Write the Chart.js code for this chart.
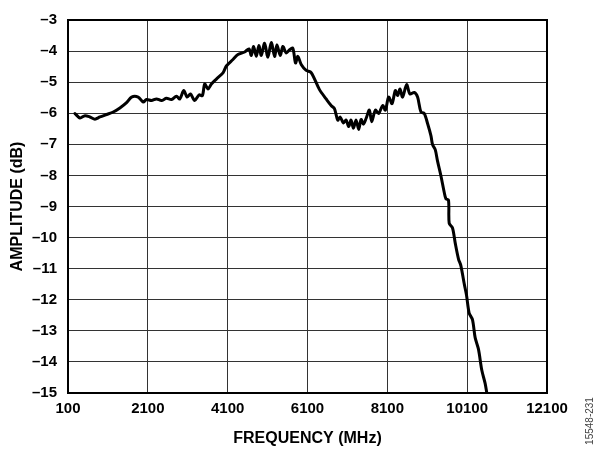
<!DOCTYPE html>
<html>
<head>
<meta charset="utf-8">
<script src="https://cdn.jsdelivr.net/npm/chart.js@4.4.1/dist/chart.umd.min.js"></script>
<style>
  html, body { margin: 0; padding: 0; background: #fff; }
  canvas { display: block; }
</style>
</head>
<body>
<canvas id="c" width="600" height="451"></canvas>
<script>
const freqMHz = [
  275, 400, 525, 650, 775, 900, 1067, 1233, 1400, 1567,
  1692, 1858, 1983, 2067, 2192, 2317, 2442, 2567, 2692, 2817,
  2900, 3000, 3083, 3167, 3275, 3383, 3467, 3525, 3608, 3692,
  3817, 3983, 4067, 4233, 4358, 4525, 4633, 4692, 4750, 4817,
  4883, 4942, 5025, 5108, 5192, 5275, 5333, 5417, 5483, 5567,
  5650, 5733, 5800, 5858, 5942, 6067, 6192, 6400, 6567, 6692,
  6775, 6858, 6917, 7000, 7067, 7133, 7192, 7250, 7317, 7383,
  7442, 7500, 7567, 7650, 7708, 7800, 7883, 7983, 8050, 8133,
  8217, 8300, 8358, 8417, 8483, 8583, 8667, 8775, 8858, 8942,
  9025, 9108, 9192, 9233, 9300, 9358, 9442, 9525, 9567, 9633,
  9650, 9733, 9800, 9883, 9942, 10025, 10083, 10150, 10233, 10300,
  10383, 10467, 10550, 10592
];
const amplitudeDb = [
  -6.01, -6.15, -6.08, -6.12, -6.19, -6.12, -6.04, -5.96, -5.83, -5.66,
  -5.48, -5.48, -5.64, -5.56, -5.59, -5.54, -5.59, -5.52, -5.56, -5.45,
  -5.54, -5.27, -5.48, -5.38, -5.59, -5.41, -5.43, -5.06, -5.22, -5.06,
  -4.90, -4.70, -4.48, -4.27, -4.11, -4.03, -3.93, -4.14, -3.85, -4.17,
  -3.82, -4.14, -3.75, -4.20, -3.72, -4.17, -3.80, -4.14, -3.85, -4.06,
  -3.96, -3.91, -4.38, -4.17, -4.43, -4.62, -4.69, -5.24, -5.54, -5.75,
  -5.85, -6.22, -6.12, -6.31, -6.22, -6.43, -6.22, -6.48, -6.22, -6.52,
  -6.20, -6.35, -6.17, -5.90, -6.27, -5.90, -6.01, -5.75, -5.90, -5.48,
  -5.69, -5.27, -5.43, -5.22, -5.48, -5.08, -5.38, -5.33, -5.48, -5.96,
  -6.01, -6.33, -6.72, -7.01, -7.17, -7.54, -8.01, -8.54, -8.75, -8.80,
  -9.54, -9.69, -10.17, -10.69, -10.90, -11.48, -11.85, -12.43, -12.64, -13.22,
  -13.59, -14.27, -14.69, -15.00
];
const xTickValues = [100, 2100, 4100, 6100, 8100, 10100, 12100];
const xTickLabels = ['100', '2100', '4100', '6100', '8100', '10100', '12100'];
const yTickValues = [-15, -14, -13, -12, -11, -10, -9, -8, -7, -6, -5, -4, -3];
const yTickLabels = ['–15', '–14', '–13', '–12', '–11', '–10', '–9', '–8', '–7', '–6', '–5', '–4', '–3'];
const xTitle = 'FREQUENCY (MHz)';
const yTitle = 'AMPLITUDE (dB)';
const figureId = '15548-231';

const points = freqMHz.map((f, i) => ({ x: f, y: amplitudeDb[i] }));
const FONT = '"Liberation Sans", Arial, Helvetica, sans-serif';

const frame = {
  id: 'frame',
  afterDraw(chart) {
    const { ctx, chartArea: a } = chart;
    ctx.save();
    ctx.strokeStyle = '#000';
    ctx.lineWidth = 2;
    ctx.strokeRect(a.left, a.top, a.right - a.left, a.bottom - a.top);
    ctx.translate(590, 421);
    ctx.rotate(-Math.PI / 2);
    ctx.fillStyle = '#444';
    ctx.font = '10px ' + FONT;
    ctx.textAlign = 'center';
    ctx.textBaseline = 'middle';
    ctx.fillText(figureId, 0, 0);
    ctx.restore();
  }
};

new Chart(document.getElementById('c'), {
  type: 'scatter',
  data: {
    datasets: [{
      data: points,
      showLine: true,
      borderColor: '#000',
      borderWidth: 3,
      borderJoinStyle: 'round',
      borderCapStyle: 'round',
      pointRadius: 0,
      tension: 0.3,
      fill: false
    }]
  },
  options: {
    responsive: false,
    animation: false,
    devicePixelRatio: 1,
    layout: { padding: { top: 13, right: 53, left: 0, bottom: 0 } },
    plugins: { legend: { display: false }, tooltip: { enabled: false } },
    scales: {
      x: {
        type: 'linear',
        min: 100, max: 12100,
        afterFit(s) { s.height = 58; },
        afterBuildTicks(s) { s.ticks = xTickValues.map(v => ({ value: v })); },
        ticks: {
          padding: 7,
          color: '#000',
          font: { family: FONT, size: 15, weight: 'bold' },
          maxRotation: 0,
          callback: (v) => xTickLabels[xTickValues.indexOf(v)]
        },
        grid: { color: '#333', lineWidth: 1, drawTicks: false },
        border: { display: false },
        title: {
          display: true, text: xTitle, color: '#000',
          font: { family: FONT, size: 16, weight: 'bold' },
          padding: { top: 0, bottom: 3 }
        }
      },
      y: {
        type: 'linear',
        min: -15, max: -3,
        afterFit(s) { s.width = 68; },
        afterBuildTicks(s) { s.ticks = yTickValues.map(v => ({ value: v })); },
        ticks: {
          padding: 11,
          color: '#000',
          font: { family: FONT, size: 15, weight: 'bold' },
          callback: (v) => yTickLabels[yTickValues.indexOf(v)]
        },
        grid: { color: '#333', lineWidth: 1, drawTicks: false },
        border: { display: false },
        title: {
          display: true, text: yTitle, color: '#000',
          font: { family: FONT, size: 16, weight: 'bold' },
          padding: { top: 8, bottom: 0 }
        }
      }
    }
  },
  plugins: [frame]
});
</script>
</body>
</html>
